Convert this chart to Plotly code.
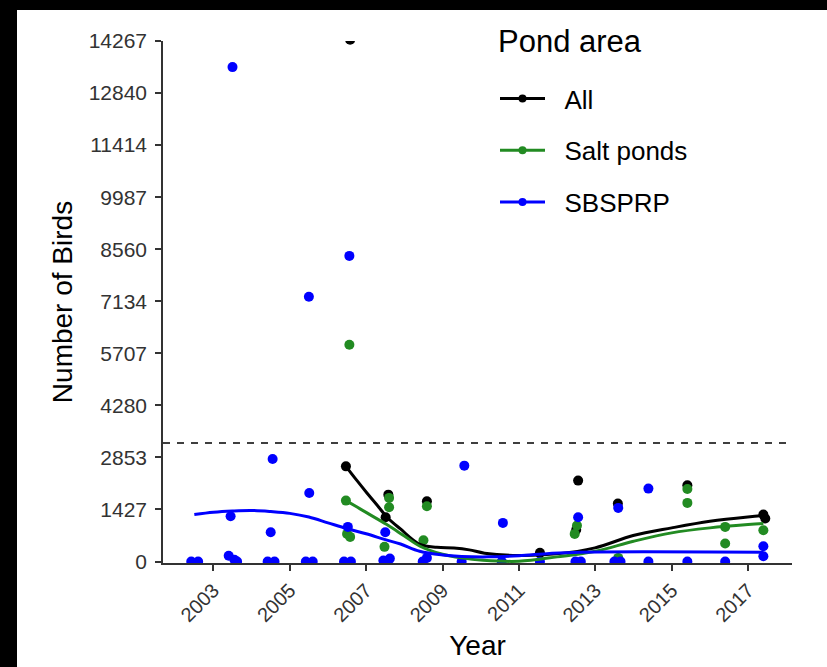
import plotly.graph_objects as go

# ---- data ----
YEAR_TICKS = [2003, 2005, 2007, 2009, 2011, 2013, 2015, 2017]
Y_TICKS = [0, 1427, 2853, 4280, 5707, 7134, 8560, 9987, 11414, 12840, 14267]
THRESHOLD = 3250

all_x = [2006.58, 2006.47, 2007.58, 2007.51, 2008.59, 2011.55, 2012.55, 2012.50,
         2013.59, 2015.41, 2017.40, 2017.45]
all_y = [14300, 2609, 1834, 1213, 1651, 238, 2218, 870, 1588, 2090, 1287, 1180]

salt_x = [2006.56, 2006.47, 2006.50, 2006.58, 2007.60, 2007.60, 2007.48, 2008.59,
          2008.50, 2012.52, 2012.46, 2013.60, 2015.41, 2015.41, 2016.40, 2016.40, 2017.40]
salt_y = [5941, 1670, 758, 676, 1744, 1487, 402, 1515, 584, 986, 758, 100,
          1990, 1607, 950, 493, 857]

sbs_x = [2002.42, 2002.60, 2003.45, 2003.40, 2003.55, 2003.62, 2003.50, 2004.55,
         2004.50, 2004.42, 2004.60, 2005.50, 2005.51, 2005.42, 2005.60, 2006.56,
         2006.52, 2006.42, 2006.60, 2007.50, 2007.45, 2007.62, 2008.59, 2008.48,
         2009.57, 2009.50, 2010.58, 2010.55, 2011.55, 2012.55, 2012.48, 2012.62,
         2013.60, 2013.50, 2013.66, 2014.39, 2014.39, 2015.41, 2016.40, 2017.40, 2017.40]
sbs_y = [0, 0, 1240, 160, 50, 0, 13553, 2812, 802, 0, 0, 7256, 1880, 0, 0, 8378,
         950, 0, 0, 802, 30, 80, 100, 0, 2628, 0, 1059, 0, 0, 1213, 0, 0, 1470, 0, 0,
         1999, 0, 0, 0, 420, 146]

# smoothed trend curves
all_fit_x = [2006.47, 2006.75, 2007.02, 2007.30, 2007.54, 2007.89, 2008.41, 2008.85,
             2009.30, 2009.70, 2010.10, 2010.98, 2011.99, 2012.99, 2013.99, 2015.00,
             2016.00, 2016.99, 2017.40]
all_fit_y = [2609, 2230, 1880, 1530, 1223, 900, 470, 390, 370, 320, 230, 164, 210,
             375, 712, 923, 1104, 1223, 1259]

salt_fit_x = [2006.47, 2006.75, 2007.02, 2007.54, 2008.00, 2008.41, 2009.00, 2009.50,
              2010.06, 2011.00, 2012.00, 2013.00, 2014.00, 2015.00, 2016.00, 2017.00, 2017.40]
salt_fit_y = [1670, 1500, 1333, 1013, 700, 420, 200, 100, 36, 8, 128, 282, 556, 786,
              923, 1013, 1040]

sbs_fit_x = [2002.50, 2003.00, 2003.50, 2004.00, 2004.50, 2005.00, 2005.50, 2006.00,
             2006.50, 2007.00, 2007.50, 2007.90, 2008.40, 2009.00, 2009.50, 2010.20,
             2011.00, 2011.80, 2012.60, 2017.40]
sbs_fit_y = [1287, 1350, 1385, 1400, 1370, 1320, 1220, 1060, 900, 760, 600, 480, 282,
             180, 140, 128, 160, 220, 255, 255]

LEGEND_TITLE = "Pond area"
series = [
    ("All", "#000000", all_x, all_y, all_fit_x, all_fit_y),
    ("Salt ponds", "#228B22", salt_x, salt_y, salt_fit_x, salt_fit_y),
    ("SBSPRP", "#0000FF", sbs_x, sbs_y, sbs_fit_x, sbs_fit_y),
]

FONT = "Liberation Sans, Arial, sans-serif"
NB = "\u00a0\u00a0"

fig = go.Figure()
for name, col, px, py, fx, fy in series:
    fig.add_trace(go.Scatter(x=px, y=py, mode="markers", showlegend=False,
                             marker=dict(color=col, size=10), hoverinfo="skip"))
for name, col, px, py, fx, fy in series:
    fig.add_trace(go.Scatter(x=fx, y=fy, mode="lines", showlegend=False,
                             line=dict(color=col, width=3, shape="spline"), hoverinfo="skip"))
for name, col, px, py, fx, fy in series:
    fig.add_trace(go.Scatter(x=[None], y=[None], mode="lines+markers", name=NB + name,
                             legendgroup=name,
                             line=dict(color=col, width=3), marker=dict(color=col, size=8)))

fig.add_hline(y=THRESHOLD, line=dict(color="#000000", width=1.5, dash="7px,7px"))

L, R, T, B = 163, 35, 41, 104
W, H = 827, 667
pw, ph = W - L - R, H - T - B


def px2x(p):
    return (p - L) / pw


def py2y(p):
    return (H - B - p) / ph


# black frame strips on left and top of the picture
fig.add_shape(type="rect", xref="paper", yref="paper", layer="above",
              x0=px2x(-5), x1=px2x(17), y0=py2y(H + 5), y1=py2y(-5),
              fillcolor="black", line_width=0)
fig.add_shape(type="rect", xref="paper", yref="paper", layer="above",
              x0=px2x(-5), x1=px2x(W + 5), y0=py2y(10), y1=py2y(-5),
              fillcolor="black", line_width=0)

fig.add_annotation(text=LEGEND_TITLE, xref="paper", yref="paper",
                   x=px2x(496), y=py2y(41), xanchor="left", yanchor="middle",
                   showarrow=False, font=dict(size=31, color="#000000", family=FONT))

fig.update_layout(
    width=W, height=H,
    margin=dict(l=L, r=R, t=T, b=B),
    paper_bgcolor="white", plot_bgcolor="white",
    font=dict(family=FONT, color="#000000"),
    showlegend=True,
    legend=dict(
        x=px2x(495), y=py2y(75), xanchor="left", yanchor="top",
        font=dict(size=26, color="#000000"),
        tracegroupgap=15, itemwidth=45, bgcolor="rgba(0,0,0,0)",
        traceorder="grouped",
    ),
    xaxis=dict(
        range=[2001.68, 2018.15], tickvals=YEAR_TICKS, ticktext=[str(v) for v in YEAR_TICKS],
        tickangle=-45, ticks="outside", ticklen=6, tickwidth=1.5, tickcolor="#333333",
        showline=True, linecolor="#333333", linewidth=1.5, showgrid=False, zeroline=False,
        tickfont=dict(size=20, color="#333333"),
        title=dict(text="Year", font=dict(size=28, color="#000000"), standoff=10),
    ),
    yaxis=dict(
        range=[-40, 14268], tickvals=Y_TICKS, ticktext=[str(v) for v in Y_TICKS],
        ticks="outside", ticklen=6, tickwidth=1.5, tickcolor="#333333",
        showline=True, linecolor="#333333", linewidth=1.5, showgrid=False, zeroline=False,
        tickfont=dict(size=21, color="#333333"), ticklabelstandoff=4,
        title=dict(text="Number of Birds", font=dict(size=28, color="#000000"), standoff=8),
    ),
)

fig.write_html("out.html", config={"displayModeBar": False},
               post_script="document.body.style.margin='0';document.body.style.overflow='hidden';")
